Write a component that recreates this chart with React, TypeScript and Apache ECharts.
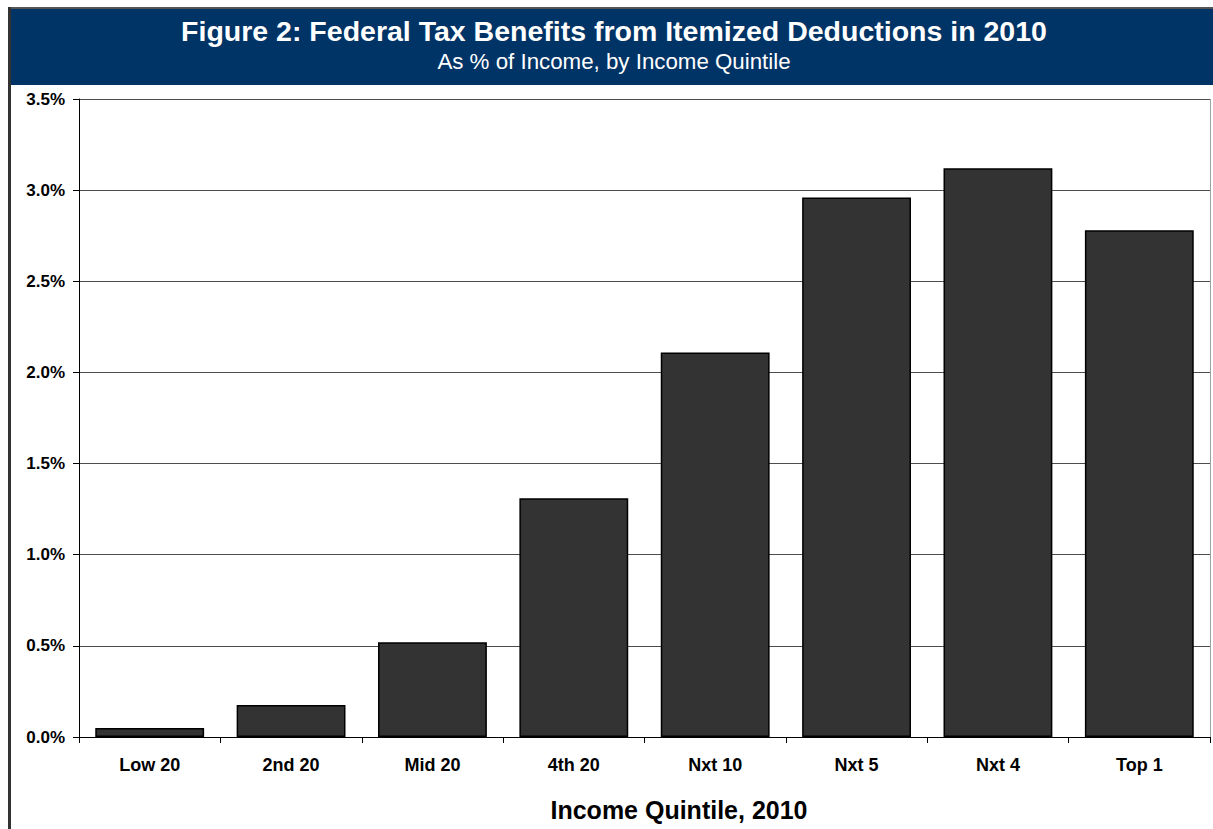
import React, { useEffect, useRef } from "react";
import * as echarts from "echarts";

const categories = ["Low 20", "2nd 20", "Mid 20", "4th 20", "Nxt 10", "Nxt 5", "Nxt 4", "Top 1"];
const values = [0.05, 0.175, 0.52, 1.31, 2.11, 2.96, 3.12, 2.78];
const titleText = "Figure 2: Federal Tax Benefits from Itemized Deductions in 2010";
const subtitleText = "As % of Income, by Income Quintile";
const xAxisName = "Income Quintile, 2010";

const FONT = "'Liberation Sans', Arial, sans-serif";

export default function App() {
  const ref = useRef<HTMLDivElement>(null);
  useEffect(() => {
    document.body.style.margin = "0";
    const chart = echarts.init(ref.current!, null, { renderer: "svg" });
    chart.setOption({
      animation: false,
      backgroundColor: "#ffffff",
      textStyle: { fontFamily: FONT },
      graphic: [
        { type: "rect", shape: { x: 10, y: 9, width: 1203, height: 76 }, style: { fill: "#003366" }, z: 0 },
        { type: "line", shape: { x1: 8, y1: 8, x2: 1213, y2: 8 }, style: { stroke: "#555555", lineWidth: 2 } },
        { type: "line", shape: { x1: 9.5, y1: 7, x2: 9.5, y2: 829 }, style: { stroke: "#333333", lineWidth: 3 } },
        { type: "line", shape: { x1: 1210.5, y1: 99, x2: 1210.5, y2: 737 }, style: { stroke: "#a0a0a0", lineWidth: 1 } },
        {
          type: "text", x: 614, y: 31,
          style: { text: titleText, fill: "#ffffff", font: `bold 28.5px ${FONT}`, textAlign: "center", textVerticalAlign: "middle" },
        },
        {
          type: "text", x: 614, y: 61,
          style: { text: subtitleText, fill: "#ffffff", font: `22.3px ${FONT}`, textAlign: "center", textVerticalAlign: "middle" },
        },
        {
          type: "text", x: 679, y: 810,
          style: { text: xAxisName, fill: "#000000", font: `bold 25px ${FONT}`, textAlign: "center", textVerticalAlign: "middle" },
        },
      ],
      grid: { left: 79, top: 99, right: 3, bottom: 92, containLabel: false },
      xAxis: {
        type: "category",
        data: categories,
        axisLine: { lineStyle: { color: "#000000", width: 1 } },
        axisTick: { show: true, length: 6, lineStyle: { color: "#000000" } },
        axisLabel: { color: "#000000", fontWeight: "bold", fontSize: 18, fontFamily: FONT, margin: 19 },
      },
      yAxis: {
        type: "value",
        min: 0,
        max: 3.5,
        interval: 0.5,
        axisLine: { show: true, lineStyle: { color: "#000000", width: 1 } },
        axisTick: { show: true, length: 6, lineStyle: { color: "#000000" } },
        axisLabel: {
          color: "#000000", fontWeight: "bold", fontSize: 17, fontFamily: FONT, margin: 14,
          formatter: (v: number) => v.toFixed(1) + "%",
        },
        splitLine: { show: true, lineStyle: { color: "#4d4d4d", width: 1 } },
      },
      series: [
        {
          type: "bar",
          data: values,
          barCategoryGap: "23%",
          itemStyle: { color: "#333333", borderColor: "#000000", borderWidth: 1.5 },
        },
      ],
    });
    return () => chart.dispose();
  }, []);
  return <div ref={ref} style={{ width: 1213, height: 829 }} />;
}
